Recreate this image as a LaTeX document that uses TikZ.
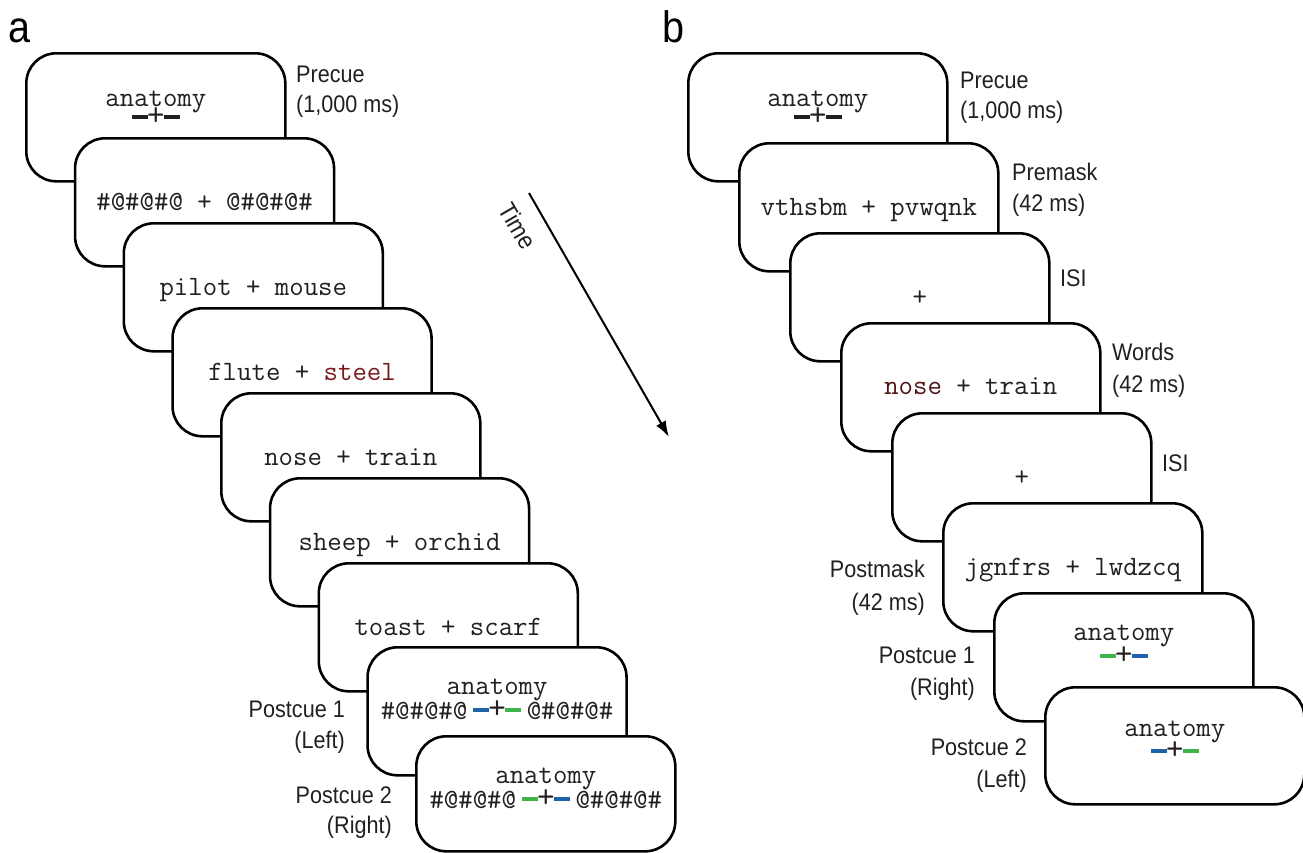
\documentclass[tikz,border=0pt]{standalone}
\usepackage{fontspec}
\setsansfont[FakeStretch=0.9]{Liberation Sans}
\usetikzlibrary{arrows.meta}
\definecolor{cueblue}{HTML}{1F63A8}
\definecolor{cuegreen}{HTML}{3DB549}
\definecolor{steelred}{HTML}{7B1A1A}
\definecolor{nosered}{HTML}{4D1515}
\definecolor{ink}{HTML}{231F20}
\newcommand\cuebars[2]{\textcolor{#1}{\rule[6.75pt]{16pt}{4.5pt}}\kern-1pt\raisebox{0.5pt}{\fontsize{34}{34}\selectfont +}\kern-1pt\textcolor{#2}{\rule[6.75pt]{16pt}{4.5pt}}}
\begin{document}
\begin{tikzpicture}[x=1pt,y=-1pt,
  scr/.style={draw=black, line width=2.6pt, rounded corners=30pt, fill=white,
    minimum width=259pt, minimum height=128pt, anchor=north west, inner sep=0pt},
  shortscr/.style={scr, minimum height=115pt},
  stim/.style={font=\fontsize{28}{30}\selectfont\ttfamily, text=ink, inner sep=0pt, anchor=base},
  lab/.style={font=\sffamily\fontsize{24}{28}\selectfont, text=ink, inner sep=0pt},
  labl/.style={lab, anchor=base west},
  labr/.style={lab, anchor=base east},
  panel/.style={font=\sffamily\fontsize{44}{48}\selectfont, text=black, inner sep=0pt, anchor=base west}]
\useasboundingbox (0,0) rectangle (1303,852);

% ---------------- panel a ----------------
\node[panel] (pa) at (8,42) {a};
\node[scr] (a1) at (25,52) {};
\node[stim] (a1t) at ([yshift=-54pt]a1.north) {anatomy};
\node[stim] (a1c) at ([yshift=-74pt]a1.north) {\cuebars{ink}{ink}};
\node[scr] (a2) at (73.75,137) {};
\node[stim] (a2t) at ([yshift=-73pt]a2.north) {\#@\#@\#@ + @\#@\#@\#};
\node[scr] (a3) at (122.5,222) {};
\node[stim] (a3t) at ([yshift=-73pt]a3.north) {pilot + mouse};
\node[scr] (a4) at (171.25,307) {};
\node[stim] (a4t) at ([yshift=-73pt]a4.north) {flute + \textcolor{steelred}{steel}};
\node[scr] (a5) at (220,392) {};
\node[stim] (a5t) at ([yshift=-73pt]a5.north) {nose + train};
\node[scr] (a6) at (268.75,477) {};
\node[stim] (a6t) at ([yshift=-73pt]a6.north) {sheep + orchid};
\node[scr] (a7) at (317.5,562) {};
\node[stim] (a7t) at ([yshift=-73pt]a7.north) {toast + scarf};
\node[scr] (a8) at (366.25,646) {};
\node[stim] (a8t) at ([yshift=-48pt]a8.north) {anatomy};
\node[stim] (a8c) at ([yshift=-73pt]a8.north) {\#@\#@\#@\hspace{6pt}\cuebars{cueblue}{cuegreen}\hspace{6pt}@\#@\#@\#};
\node[shortscr] (a9) at (415,735) {};
\node[stim] (a9t) at ([yshift=-48pt]a9.north) {anatomy};
\node[stim] (a9c) at ([yshift=-73pt]a9.north) {\#@\#@\#@\hspace{6pt}\cuebars{cuegreen}{cueblue}\hspace{6pt}@\#@\#@\#};

\node[labl] (la1a) at (296,82) {Precue};
\node[labl] (la1b) at (296,112) {(1,000 ms)};
\node[labr] (la8a) at (345,717) {Postcue 1};
\node[labr] (la8b) at (345,748) {(Left)};
\node[labr] (la9a) at (392,803) {Postcue 2};
\node[labr] (la9b) at (392,833) {(Right)};

% ---------------- time arrow ----------------
\coordinate (t0) at (529,193);
\coordinate (t1) at (669,437);
\draw[line width=2pt, -{Latex[length=16pt,width=11pt]}] (t0) -- (t1);
\node[lab, font=\sffamily\fontsize{25}{28}\selectfont, rotate=-60] (time) at (518,226) {Time};

% ---------------- panel b ----------------
\node[panel] (pb) at (662,42) {b};
\node[scr] (b1) at (687,52) {};
\node[stim] (b1t) at ([yshift=-54pt]b1.north) {anatomy};
\node[stim] (b1c) at ([yshift=-74pt]b1.north) {\cuebars{ink}{ink}};
\node[scr] (b2) at (738,142) {};
\node[stim] (b2t) at ([yshift=-73pt]b2.north) {vthsbm + pvwqnk};
\node[scr] (b3) at (789,232) {};
\node[stim] (b3t) at ([yshift=-73pt]b3.north) {+};
\node[scr] (b4) at (840,322) {};
\node[stim] (b4t) at ([yshift=-72pt]b4.north) {\textcolor{nosered}{nose} + train};
\node[scr] (b5) at (891,412) {};
\node[stim] (b5t) at ([yshift=-73pt]b5.north) {+};
\node[scr] (b6) at (942,502) {};
\node[stim] (b6t) at ([yshift=-73pt]b6.north) {jgnfrs + lwdzcq};
\node[scr] (b7) at (993,592) {};
\node[stim] (b7t) at ([yshift=-48pt]b7.north) {anatomy};
\node[stim] (b7c) at ([yshift=-73pt]b7.north) {\cuebars{cuegreen}{cueblue}};
\node[scr, minimum height=117pt] (b8) at (1044,686) {};
\node[stim] (b8t) at ([yshift=-50pt]b8.north) {anatomy};
\node[stim] (b8c) at ([yshift=-74pt]b8.north) {\cuebars{cueblue}{cuegreen}};

\node[labl] (lb1a) at (960,88) {Precue};
\node[labl] (lb1b) at (960,118) {(1,000 ms)};
\node[labl] (lb2a) at (1012,180) {Premask};
\node[labl] (lb2b) at (1012,211) {(42 ms)};
\node[labl] (lb3) at (1060,286) {ISI};
\node[labl] (lb4a) at (1112,360) {Words};
\node[labl] (lb4b) at (1112,392) {(42 ms)};
\node[labl] (lb5) at (1162,471) {ISI};
\node[labr] (lb6a) at (925,577) {Postmask};
\node[labr] (lb6b) at (925,610) {(42 ms)};
\node[labr] (lb7a) at (975,663) {Postcue 1};
\node[labr] (lb7b) at (975,695) {(Right)};
\node[labr] (lb8a) at (1027,755) {Postcue 2};
\node[labr] (lb8b) at (1027,787) {(Left)};
\end{tikzpicture}
\end{document}
